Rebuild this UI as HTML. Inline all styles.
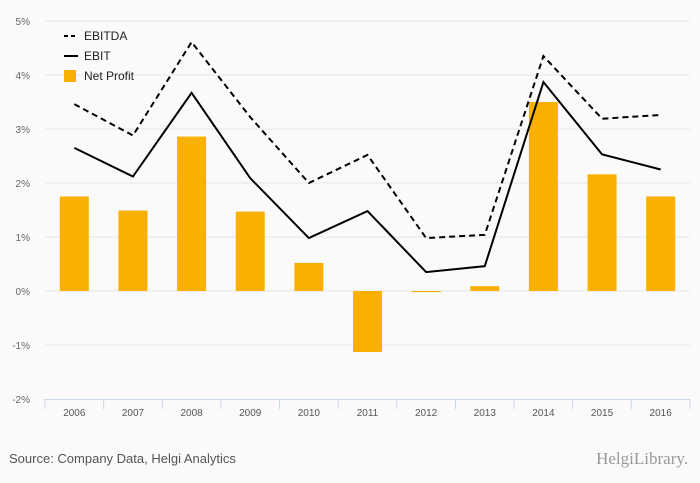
<!DOCTYPE html>
<html><head><meta charset="utf-8"><style>
html,body{margin:0;background:#fafafa;font-family:"Liberation Sans",sans-serif;overflow:hidden;}
#wrap{position:relative;width:700px;height:483px;background:#fafafa;overflow:hidden;}
svg{display:block;}
</style></head><body>
<div id="wrap">
<svg id="chart" width="700" height="483"></svg>
</div>
<script>
const categories=["2006","2007","2008","2009","2010","2011","2012","2013","2014","2015","2016"];
const netProfit=[1.75,1.49,2.86,1.47,0.52,-1.13,-0.02,0.09,3.50,2.16,1.75];
const ebit=[2.65,2.12,3.67,2.09,0.98,1.48,0.35,0.46,3.87,2.53,2.25];
const ebitda=[3.46,2.88,4.61,3.22,2.00,2.52,0.98,1.04,4.35,3.19,3.26];
const yTicks=[-2,-1,0,1,2,3,4,5];

const svg=document.getElementById('chart');
const NS='http://www.w3.org/2000/svg';
const x0=45,x1=690,yTop=21,yBot=399,yMin=-2,yMax=5;
const band=(x1-x0)/categories.length;
const X=i=>x0+band*(i+0.5);
const Y=v=>yBot-(v-yMin)/(yMax-yMin)*(yBot-yTop);
function mk(tag,attrs,parent){const e=document.createElementNS(NS,tag);for(const k in attrs)e.setAttribute(k,attrs[k]);(parent||svg).appendChild(e);return e;}

yTicks.forEach(t=>{
  if(t>yMin){const g=mk('line',{x1:x0,x2:x1,y1:Y(t),y2:Y(t),stroke:'#e6e6e6','stroke-width':1});
  
  }
  const l=mk('text',{x:30,y:Y(t)+4,'text-anchor':'end','font-size':10,fill:'#666'});
  l.textContent=t+'%';
  
  
});
const ax=mk('line',{x1:x0,x2:x1,y1:yBot+0.5,y2:yBot+0.5,stroke:'#ccd6eb'});


for(let i=0;i<=categories.length;i++){
  const tk=mk('line',{x1:x0+band*i,x2:x0+band*i,y1:yBot,y2:yBot+10,stroke:'#ccd6eb'});
  
  
}
categories.forEach((c,i)=>{
  const t=mk('text',{x:X(i),y:yBot+17,'text-anchor':'middle','font-size':10,fill:'#555'});
  t.textContent=c;
  
  
});
const bw=29;
netProfit.forEach((v,i)=>{
  const y=Math.min(Y(v),Y(0)),h=Math.abs(Y(v)-Y(0));
  const r=mk('rect',{x:X(i)-bw/2,y:y,width:bw,height:Math.max(h,1),fill:'#f9b000'});
  
  
});
function line(vals,dash,name){
  const p=mk('path',{d:vals.map((v,i)=>(i?'L':'M')+X(i)+','+Y(v)).join(''),fill:'none',stroke:'#000','stroke-width':2,'stroke-dasharray':dash});
  
  
}
line(ebitda,'6,4','line-ebitda');
line(ebit,'none','line-ebit');

const leg=[['EBITDA','dash'],['EBIT','solid'],['Net Profit','bar']];
leg.forEach((L,i)=>{
  const y=36+i*20;
  const g=mk('g',{});
  
  
  if(L[1]==='bar')mk('rect',{x:64,y:y-6,width:12,height:12,fill:'#f9b000'},g);
  else mk('line',{x1:64,x2:78,y1:y,y2:y,stroke:'#000','stroke-width':2,'stroke-dasharray':L[1]==='dash'?'4,3':'none'},g);
  const t=mk('text',{x:84,y:y+4,'font-size':12,fill:'#222'},g);t.textContent=L[0];
});
const s=mk('text',{x:9,y:463,'font-size':13,fill:'#555'});
s.textContent='Source: Company Data, Helgi Analytics';


const h=mk('text',{x:688,y:464,'text-anchor':'end','font-size':17,fill:'#999','font-family':'Liberation Serif, serif'});
h.textContent='HelgiLibrary.';


</script>
</body></html>
